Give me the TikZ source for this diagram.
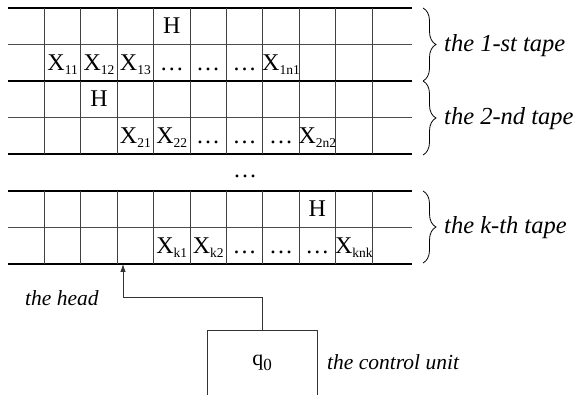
\documentclass[tikz,border=0pt]{standalone}
\usepackage{fontspec}
\setmainfont{Liberation Serif}
\usetikzlibrary{calc,arrows.meta,decorations.pathreplacing}
\def\cellw{36.4}
\def\tapeh{73}
\def\tapel{8}
\def\taper{412}
\newcommand\low[1]{\raisebox{-4pt}{\fontsize{13.5}{15}\selectfont #1}}

\begin{document}
\begin{tikzpicture}[x=1pt,y=-1pt,font=\fontsize{24}{28}\selectfont,
  tapeline/.style={line width=2pt},
  midline/.style={line width=0.8pt,black!70},
  cellline/.style={line width=1pt,black!75},
  cell/.style={anchor=base,inner sep=0pt},
  lab/.style={font=\fontsize{21.5}{26}\selectfont\itshape,anchor=west,inner sep=0pt},
  tapelab/.style={lab,font=\fontsize{24.5}{28}\selectfont\itshape},
  tapebrace/.style={decorate,decoration={brace,amplitude=13pt},line width=0.8pt}]
\useasboundingbox (0,0) rectangle (581,395);
% the tapes
\foreach \t/\y in {1/8,2/81,k/191} {
  \draw[tapeline] (\tapel,\y) -- (\taper,\y);
  \draw[midline] (\tapel,\y+36.5) -- (\taper,\y+36.5);
  \draw[tapeline] (\tapel,\y+\tapeh) -- (\taper,\y+\tapeh);
  \foreach \i in {1,...,10}
    \draw[cellline] (\tapel+\i*\cellw,\y) -- +(0,\tapeh);
}
% cell contents: tape / top / column / row / text
\foreach \t/\y/\c/\r/\s in {
  1/8/4/0/H, 1/8/1/1/X\low{11}, 1/8/2/1/X\low{12},
  1/8/3/1/X\low{13}, 1/8/4/1/\dots, 1/8/5/1/\dots, 1/8/6/1/\dots,
  1/8/7/1/X\low{1n1},
  2/81/2/0/H, 2/81/3/1/X\low{21}, 2/81/4/1/X\low{22},
  2/81/5/1/\dots, 2/81/6/1/\dots, 2/81/7/1/\dots, 2/81/8/1/X\low{2n2},
  k/191/8/0/H, k/191/4/1/X\low{k1}, k/191/5/1/X\low{k2},
  k/191/6/1/\dots, k/191/7/1/\dots, k/191/8/1/\dots, k/191/9/1/X\low{knk}}
  \node[cell] (c\t-\c-\r) at ({\tapel+(\c+0.5)*\cellw},{\y+26+\r*37}) {\s};
\node (vdots) at (245,176) {\dots};
% braces and tape names
\draw[tapebrace] (423,8) -- (423,81);
\draw[tapebrace] (423,81) -- (423,155);
\draw[tapebrace] (423,191) -- (423,263);
\node[tapelab] (tape1) at (444,46) {the 1-st tape};
\node[tapelab] (tape2) at (444,119) {the 2-nd tape};
\node[tapelab] (tapek) at (444,228) {the k-th tape};
% control unit and head
\node[draw,line width=1pt,black!80,minimum width=110pt,minimum height=100pt,anchor=north] (cu) at (262,330) {};
\node[cell] (q) at ($(cu.north)+(0,36)$) {\fontsize{22}{26}\selectfont q\raisebox{-5pt}{\fontsize{17}{20}\selectfont 0}};
\node[lab] (culab) at (327,362) {the control unit};
\node[lab] (headlab) at (25,298) {the head};
\coordinate (head) at (123,264);
\draw[-{Latex[length=8pt,width=5.5pt]},line width=0.8pt,black!80] (cu.north) |- ($(head)+(0,33)$) -- (head);
\end{tikzpicture}
\end{document}
